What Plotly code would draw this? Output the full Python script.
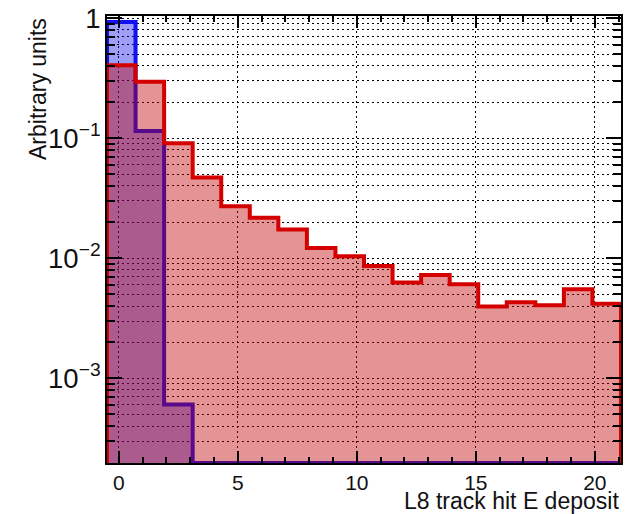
import numpy as np
import plotly.graph_objects as go

# ---- data ----
bin_edges_start = -0.5
bin_width = 1.2
red_values = [0.406, 0.296, 0.091, 0.047, 0.0271, 0.0217, 0.0174, 0.0122, 0.0104,
              0.0086, 0.00627, 0.00726, 0.00608, 0.00396, 0.00430, 0.00406, 0.00552, 0.00418]
blue_values = [0.93, 0.115, 0.000605, 0, 0, 0, 0, 0, 0,
               0, 0, 0, 0, 0, 0, 0, 0, 0]
x_tick_vals = [0, 5, 10, 15, 20]
x_title = "L8 track hit E deposit"
y_title = "Arbitrary units"

x_range = [-0.5, 21.1]
y_range_log = [np.log10(1.97e-4), 0.018]
y_floor = 10 ** y_range_log[0]

edges = [bin_edges_start + i * bin_width for i in range(len(red_values) + 1)]


def step_path(values):
    xs, ys = [edges[0]], [y_floor]
    for i, v in enumerate(values):
        v = max(v, y_floor)
        xs += [edges[i], edges[i + 1]]
        ys += [v, v]
    xs.append(edges[-1])
    ys.append(y_floor)
    return xs, ys


fig = go.Figure()
bx, by = step_path(blue_values)
fig.add_trace(go.Scatter(x=bx, y=by, mode="lines", fill="toself",
                         fillcolor="rgba(0,0,230,0.38)",
                         line=dict(color="#1010f0", width=4), hoverinfo="skip"))
rx, ry = step_path(red_values)
fig.add_trace(go.Scatter(x=rx, y=ry, mode="lines", fill="toself",
                         fillcolor="rgba(190,0,0,0.42)",
                         line=dict(color="#d40000", width=4), hoverinfo="skip"))

font_family = "Liberation Sans, Arial, sans-serif"
grid_dash = "2px,3px"

fig.update_layout(
    width=626, height=514,
    margin=dict(l=107, r=3, t=14, b=51),
    paper_bgcolor="white", plot_bgcolor="white",
    showlegend=False,
    font=dict(family=font_family, size=22, color="black"),
    xaxis=dict(
        range=x_range, tickmode="array", tickvals=x_tick_vals,
        ticks="inside", ticklen=12, tickwidth=2, tickcolor="black",
        showline=True, linecolor="black", linewidth=2, mirror="ticks",
        showgrid=True, gridcolor="black", gridwidth=1, griddash=grid_dash,
        zeroline=False,
        minor=dict(dtick=1, tick0=0, ticks="inside", ticklen=6, tickwidth=2,
                   tickcolor="black", showgrid=False),
        tickfont=dict(size=21, color="#111"),
    ),
    yaxis=dict(
        type="log", range=y_range_log, dtick=1, exponentformat="power",
        ticks="inside", ticklen=15, tickwidth=2, tickcolor="black",
        showline=True, linecolor="black", linewidth=2, mirror="ticks",
        showgrid=True, gridcolor="black", gridwidth=1, griddash=grid_dash,
        zeroline=False,
        minor=dict(dtick="D1", ticks="inside", ticklen=8, tickwidth=2,
                   tickcolor="black", showgrid=True, gridcolor="black",
                   gridwidth=1, griddash=grid_dash),
        tickfont=dict(size=22, color="#111"),
    ),
    annotations=[
        dict(text=x_title, xref="paper", yref="paper", x=1, y=0,
             xanchor="right", yanchor="middle", yshift=-38, showarrow=False,
             font=dict(size=23, family=font_family, color="#111")),
        dict(text=y_title, xref="paper", yref="paper", x=0, y=1,
             xanchor="center", yanchor="top", xshift=-69, textangle=-90,
             showarrow=False, font=dict(size=23, family=font_family, color="#111")),
    ],
)

fig.write_html("out.html")
